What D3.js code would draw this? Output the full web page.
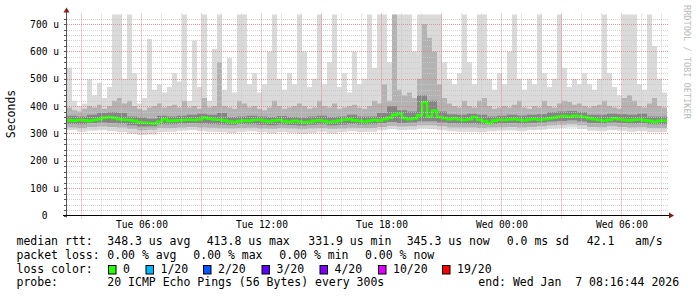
<!DOCTYPE html>
<html><head><meta charset="utf-8">
<script src="https://cdn.jsdelivr.net/npm/d3@7"></script>
<style>
html,body{margin:0;padding:0;background:#fff;}
svg{display:block;}
text{font-family:"DejaVu Sans Mono",monospace;white-space:pre;}
</style></head><body>
<svg id="c" width="697" height="297"></svg>
<script>
// ---- time range (15-min fine bins, 30-min coarse bins) ----
const startTime = Date.UTC(2026,0,6,2,16,44);
const endTime   = Date.UTC(2026,0,7,8,16,44);

// median RTT (us), 120 x 15 min
const median = [348,347,349,348,346,349,352,358,360,357, 352,350,349,346,341,339,338,337,343,352,
                346,347,348,349,350,349,351,358,354,351, 350,347,344,342,345,347,346,349,350,346,
                344,347,349,345,343,346,344,341,343,346, 348,345,342,344,347,350,352,348,346,344,
                346,349,347,352,357,368,372,356,352,355, 366,414,362,384,360,356,352,355,351,349,
                352,360,350,345,338,347,350,349,351,353, 350,348,351,353,350,352,355,358,362,364,
                361,365,363,360,356,352,349,347,350,355, 352,349,348,350,351,348,346,343,346,347];
// max ping (us), 120 x 15 min
const maxPing = [540,420,400,410,497,440,485,430,470,740, 740,500,740,520,410,430,645,460,480,450,
                 470,520,490,740,420,640,470,740,420,610, 740,460,575,450,740,740,480,520,450,480,
                 600,740,500,460,520,480,740,600,470,500, 740,480,560,740,470,520,450,600,480,500,
                 740,540,740,740,560,740,740,740,740,600, 740,740,740,740,740,560,500,480,520,740,
                 560,480,740,740,500,460,520,480,600,740, 500,460,500,480,740,520,470,500,740,540,
                 470,500,480,520,480,460,500,740,520,470, 440,740,740,740,480,460,740,620,500,450];
// 90th percentile (us), 120 x 15 min
const p90 = [395,385,380,390,400,395,405,390,400,420, 430,410,420,400,390,385,395,400,410,395,
             400,405,395,420,395,400,390,430,395,400, 560,400,395,390,420,410,395,400,390,385,
             395,420,400,390,395,400,410,400,390,395, 420,400,395,410,390,395,400,405,395,390,
             400,420,410,480,420,740,460,440,450,430, 500,700,650,600,480,430,410,400,395,420,
             400,395,420,430,400,390,395,400,395,405, 420,395,390,400,395,420,400,395,410,420,
             415,405,410,400,395,400,405,420,400,395, 390,430,440,420,400,395,410,430,400,395];
// coarse percentiles (us), 60 x 30 min
const p75 = [365,362,368,375,378, 375,362,358,355,365, 362,365,368,372,368, 375,360,362,365,362,
             360,364,360,358,362, 365,360,362,368,362, 362,375,400,385,380, 440,420,380,370,368,
             372,368,362,365,368, 366,368,370,378,380, 382,378,368,368,372, 370,368,372,362,362];
const p25 = [335,334,338,340,338, 336,330,325,326,334, 334,336,338,336,335, 333,332,335,334,332,
             330,333,331,329,332, 334,330,332,335,333, 334,338,342,338,340, 345,345,340,337,336,
             336,334,335,337,338, 336,338,340,344,346, 348,344,338,337,340, 338,336,337,334,334];
const p10 = [322,320,324,325,324, 322,316,312,314,320, 320,322,324,322,321, 319,318,320,321,318,
             316,320,318,315,318, 320,316,318,321,320, 320,324,328,325,326, 330,330,326,322,322,
             322,320,322,323,324, 322,324,326,330,332, 334,330,324,323,326, 324,322,323,320,320];
const minPing = [312,306,310,312,308, 305,298,294,296,305, 306,310,312,308,306, 304,302,306,308,304,
                 300,305,303,298,302, 306,300,304,308,305, 306,312,315,312,314, 318,316,312,308,306,
                 306,304,308,310,311, 308,312,314,318,320, 322,316,310,308,312, 310,306,308,304,304];

const yTickValues = [0,100,200,300,400,500,600,700];
const xTickTimes = [Date.UTC(2026,0,6,6), Date.UTC(2026,0,6,12), Date.UTC(2026,0,6,18),
                    Date.UTC(2026,0,7,0), Date.UTC(2026,0,7,6)];

const statLabels = ["348.3 us avg","413.8 us max","331.9 us min","345.3 us now","0.0 ms sd","42.1","am/s"];
const lossValues = ["0.00 % avg","0.00 % max","0.00 % min","0.00 % now"];
const lossLabels = ["0","1/20","2/20","3/20","4/20","10/20","19/20"];
const lossColors = ["#26ff00","#00b8ff","#0059ff","#5e00ff","#7e00ff","#dd00ff","#ff0000"];
const probeText = "20 ICMP Echo Pings (56 Bytes) every 300s";
const endText = "end: Wed Jan  7 08:16:44 2026";

// ---- layout ----
const L = 67, R = 667, T = 14.5, B = 215.5;
const svg = d3.select("#c");
const x = d3.scaleUtc().domain([startTime, endTime]).range([L, R]);
const y = d3.scaleLinear().domain([0, 735]).range([B, T]);

const FINE = 15*60*1000;
const rows = median.map((m,i)=>({
  t: new Date(startTime + i*FINE), med:m, max:maxPing[i], p90:p90[i],
  p75:p75[i>>1], p25:p25[i>>1], p10:p10[i>>1], min:minPing[i>>1]
}));
rows.push(Object.assign({}, rows[rows.length-1], {t:new Date(endTime)}));

svg.append("defs").append("clipPath").attr("id","plot")
  .append("rect").attr("x",L).attr("y",T).attr("width",R-L).attr("height",B-T);

const g = svg.append("g").attr("clip-path","url(#plot)");
const band = (lo,hi,color)=> g.append("path").datum(rows).attr("fill",color)
  .attr("d", d3.area().curve(d3.curveStepAfter).x(d=>x(d.t)).y0(d=>y(d[lo])).y1(d=>y(d[hi]))(rows));
band("min","max","#dadada");
band("p10","p90","#b3b3b3");
band("p25","p75","#858585");

// ---- grid ----
const grid = svg.append("g");
const minorY = d3.range(20, 735, 20).filter(v=>v%100!==0);
grid.selectAll(".hy").data(minorY).enter().append("line")
  .attr("x1",L).attr("x2",R+1).attr("y1",d=>Math.round(y(d))+0.5).attr("y2",d=>Math.round(y(d))+0.5)
  .attr("stroke","#c8c8c8").attr("stroke-dasharray","1,1").attr("stroke-opacity",0.8);
const hours = d3.utcHour.range(new Date(startTime), new Date(endTime));
grid.selectAll(".vx").data(hours.filter(h=>h.getUTCHours()%3!==0)).enter().append("line")
  .attr("y1",T-1).attr("y2",B+2).attr("x1",d=>Math.round(x(d))+0.5).attr("x2",d=>Math.round(x(d))+0.5)
  .attr("stroke","#c8c8c8").attr("stroke-dasharray","1,1").attr("stroke-opacity",0.8);
grid.selectAll(".hyM").data(yTickValues.filter(v=>v>0)).enter().append("line")
  .attr("x1",L).attr("x2",R+1).attr("y1",d=>Math.round(y(d))+0.5).attr("y2",d=>Math.round(y(d))+0.5)
  .attr("stroke","#e08080").attr("stroke-dasharray","1,1").attr("stroke-opacity",0.8);
grid.selectAll(".vxM").data(hours.filter(h=>h.getUTCHours()%3===0)).enter().append("line")
  .attr("y1",T-1).attr("y2",B+3).attr("x1",d=>Math.round(x(d))+0.5).attr("x2",d=>Math.round(x(d))+0.5)
  .attr("stroke","#e08080").attr("stroke-dasharray","1,1").attr("stroke-opacity",0.8);

// ---- median line ----
g.append("path").datum(rows).attr("fill","none").attr("stroke","#26ff00").attr("stroke-width",2.6)
  .attr("d", d3.line().curve(d3.curveStepAfter).x(d=>x(d.t)).y(d=>y(d.med)));

// ---- axes ----
svg.append("line").attr("x1",L-0.5).attr("x2",L-0.5).attr("y1",B+2).attr("y2",10).attr("stroke","#555");
svg.append("path").attr("d",`M${L-3.5},12.5 L${L-0.5},7.5 L${L+2.5},12.5 Z`).attr("fill","#8b1a1a");
svg.append("line").attr("x1",L-4).attr("x2",R+3).attr("y1",B).attr("y2",B).attr("stroke","#000");
svg.append("path").attr("d",`M${R+2},${B-3} L${R+7},${B} L${R+2},${B+3} Z`).attr("fill","#8b1a1a");
svg.selectAll(".yt").data(d3.range(0,735,20)).enter().append("line")
  .attr("x1",L-3).attr("x2",L-0.5).attr("y1",d=>Math.round(y(d))+0.5).attr("y2",d=>Math.round(y(d))+0.5)
  .attr("stroke","#555");

const xAxis = svg.append("g").attr("transform",`translate(0,${B})`)
  .call(d3.axisBottom(x).tickValues(xTickTimes.map(t=>new Date(t))).tickSize(0).tickPadding(5.2)
        .tickFormat(d3.utcFormat("%a %H:%M")));
xAxis.select(".domain").remove();
xAxis.selectAll("text").attr("font-family","DejaVu Sans Mono").attr("font-size","9.6px").attr("fill","#000");

const yAxis = svg.append("g").attr("transform",`translate(${L},0)`)
  .call(d3.axisLeft(y).tickValues(yTickValues).tickSize(0).tickPadding(8)
        .tickFormat(v=> v===0 ? "0  " : v+" u"));
yAxis.select(".domain").remove();
yAxis.selectAll("text").attr("font-family","DejaVu Sans Mono").attr("font-size","9.6px").attr("fill","#000");

svg.append("text").attr("transform","translate(15,114) rotate(-90)").attr("text-anchor","middle")
  .attr("font-size","11.5px").text("Seconds");

svg.append("text").attr("transform","translate(683.5,5) rotate(90)").attr("font-size","8.6px")
  .attr("fill","#bcbcbc").text("RRDTOOL / TOBI OETIKER");

// ---- legend ----
const lg = svg.append("g").attr("font-size","11.5px").attr("fill","#000");
const rowY = [245.3, 259, 272.7, 286.4];
lg.append("text").attr("x",16.5).attr("y",rowY[0]).text("median rtt:");
const statX = [107.3,206.7,308.3,406.7,506.7,586.7,635];
statLabels.forEach((s,i)=> lg.append("text").attr("x",statX[i]).attr("y",rowY[0]).text(s));
lg.append("text").attr("x",16.5).attr("y",rowY[1]).text("packet loss:");
const lossX = [107.3,193.3,279.3,365];
lossValues.forEach((s,i)=> lg.append("text").attr("x",lossX[i]).attr("y",rowY[1]).text(s));
lg.append("text").attr("x",16.5).attr("y",rowY[2]).text("loss color:");
const boxX = [108.5,146,203.5,262,320,378.5,442.5];
lossLabels.forEach((s,i)=>{
  lg.append("rect").attr("x",boxX[i]).attr("y",265.5).attr("width",7.5).attr("height",8.5)
    .attr("fill",lossColors[i]).attr("stroke","#000").attr("stroke-width",1);
  lg.append("text").attr("x",boxX[i]+14.5).attr("y",rowY[2]).text(s);
});
lg.append("text").attr("x",16.5).attr("y",rowY[3]).text("probe:");
lg.append("text").attr("x",107.3).attr("y",rowY[3]).text(probeText);
lg.append("text").attr("x",478.3).attr("y",rowY[3]).text(endText);
</script>
</body></html>
